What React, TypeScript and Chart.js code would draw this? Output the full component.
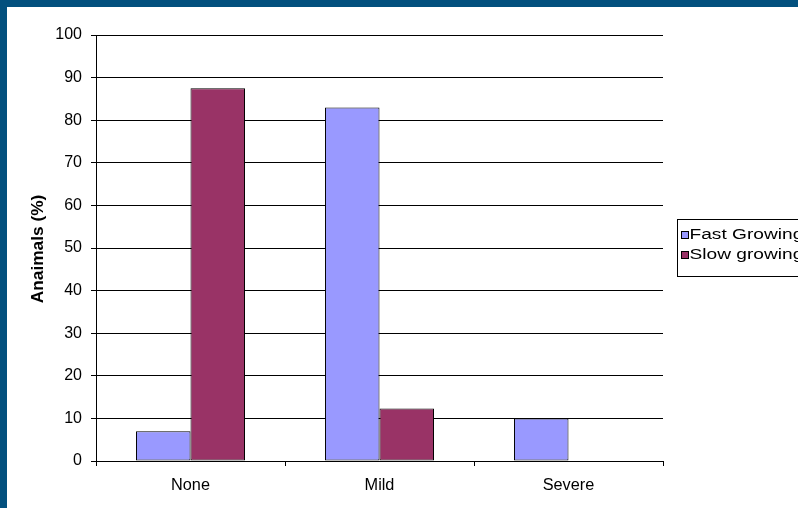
import React, { useEffect, useRef } from "react";
import { Chart, registerables } from "chart.js";

Chart.register(...registerables);

const categories = ["None", "Mild", "Severe"];
const fastGrowing = [7, 83, 10];
const slowGrowing = [87.5, 12.3, 0];
const seriesNames = ["Fast Growing", "Slow growing"];
const seriesColors = ["#9999FF", "#993366"];
const yTitle = "Anaimals (%)";

const FONT = "'Liberation Sans', Arial, sans-serif";

// Rotated, bold y-axis title
const yTitlePlugin = {
  id: "yTitle",
  afterDraw(chart: any) {
    const { ctx } = chart;
    ctx.save();
    ctx.translate(38.5, 249);
    ctx.rotate(-Math.PI / 2);
    ctx.scale(1.08, 1);
    ctx.font = `bold 16px ${FONT}`;
    ctx.fillStyle = "#000";
    ctx.textAlign = "center";
    ctx.textBaseline = "middle";
    ctx.fillText(yTitle, 0, 0);
    ctx.restore();
  },
};

// Boxed legend at the right of the plot (wide-set text)
const boxLegendPlugin = {
  id: "boxLegend",
  afterDraw(chart: any) {
    const { ctx, chartArea } = chart;
    const left = chartArea.right + 14.5;
    const top = 219.5;
    const rowH = 20;
    ctx.save();
    ctx.strokeStyle = "#000";
    ctx.lineWidth = 1;
    ctx.fillStyle = "#fff";
    ctx.fillRect(left, top, 200, 57);
    ctx.strokeRect(left, top, 200, 57);
    chart.data.datasets.forEach((ds: any, i: number) => {
      const sy = 231.5 + i * rowH;
      ctx.fillStyle = ds.backgroundColor;
      ctx.fillRect(left + 4, sy, 7, 7);
      ctx.strokeStyle = "#000";
      ctx.strokeRect(left + 4, sy, 7, 7);
      ctx.save();
      ctx.translate(left + 12, 239 + i * rowH);
      ctx.scale(1.26, 1);
      ctx.font = `15.2px ${FONT}`;
      ctx.textAlign = "left";
      ctx.textBaseline = "alphabetic";
      ctx.fillStyle = "#000";
      ctx.fillText(ds.label, 0, 0);
      ctx.restore();
    });
    ctx.restore();
  },
};

export default function App() {
  const canvasRef = useRef<HTMLCanvasElement | null>(null);

  useEffect(() => {
    if (!canvasRef.current) return;
    const chart = new Chart(canvasRef.current, {
      type: "bar",
      data: {
        labels: categories,
        datasets: [
          {
            label: seriesNames[0],
            data: fastGrowing,
            backgroundColor: seriesColors[0],
            borderColor: "#000",
            borderWidth: 1,
            borderSkipped: false,
            categoryPercentage: 0.577,
            barPercentage: 1,
          },
          {
            label: seriesNames[1],
            data: slowGrowing,
            backgroundColor: seriesColors[1],
            borderColor: "#000",
            borderWidth: 1,
            borderSkipped: false,
            categoryPercentage: 0.577,
            barPercentage: 1,
          },
        ],
      },
      options: {
        responsive: false,
        animation: false,
        layout: { padding: { top: 35, right: 135, left: 0, bottom: 0 } },
        plugins: {
          legend: { display: false },
          tooltip: { enabled: false },
        },
        scales: {
          x: {
            afterFit: (s: any) => {
              s.height = 47;
            },
            grid: {
              drawOnChartArea: false,
              drawTicks: true,
              tickLength: 5,
              offset: true,
              color: "#000",
            },
            border: { display: true, color: "#000", width: 1 },
            ticks: {
              color: "#000",
              padding: 10,
              font: { family: FONT, size: 16.3 },
            },
          },
          y: {
            min: 0,
            max: 100,
            afterFit: (s: any) => {
              s.width = 96;
            },
            grid: { color: "#000", tickLength: 5, lineWidth: 1 },
            border: { display: true, color: "#000", width: 1 },
            ticks: {
              stepSize: 10,
              color: "#000",
              padding: 9,
              font: { family: FONT, size: 16 },
            },
          },
        },
      },
      plugins: [yTitlePlugin, boxLegendPlugin],
    });
    return () => chart.destroy();
  }, []);

  return (
    <div
      style={{
        position: "fixed",
        left: 0,
        top: 0,
        width: 798,
        height: 508,
        background: "#03507E",
        overflow: "hidden",
      }}
    >
      <div
        style={{
          position: "absolute",
          left: 7,
          top: 7,
          right: 0,
          bottom: 0,
          background: "#fff",
        }}
      />
      <canvas
        ref={canvasRef}
        width={798}
        height={508}
        style={{ position: "absolute", left: 0, top: 0 }}
      />
    </div>
  );
}
